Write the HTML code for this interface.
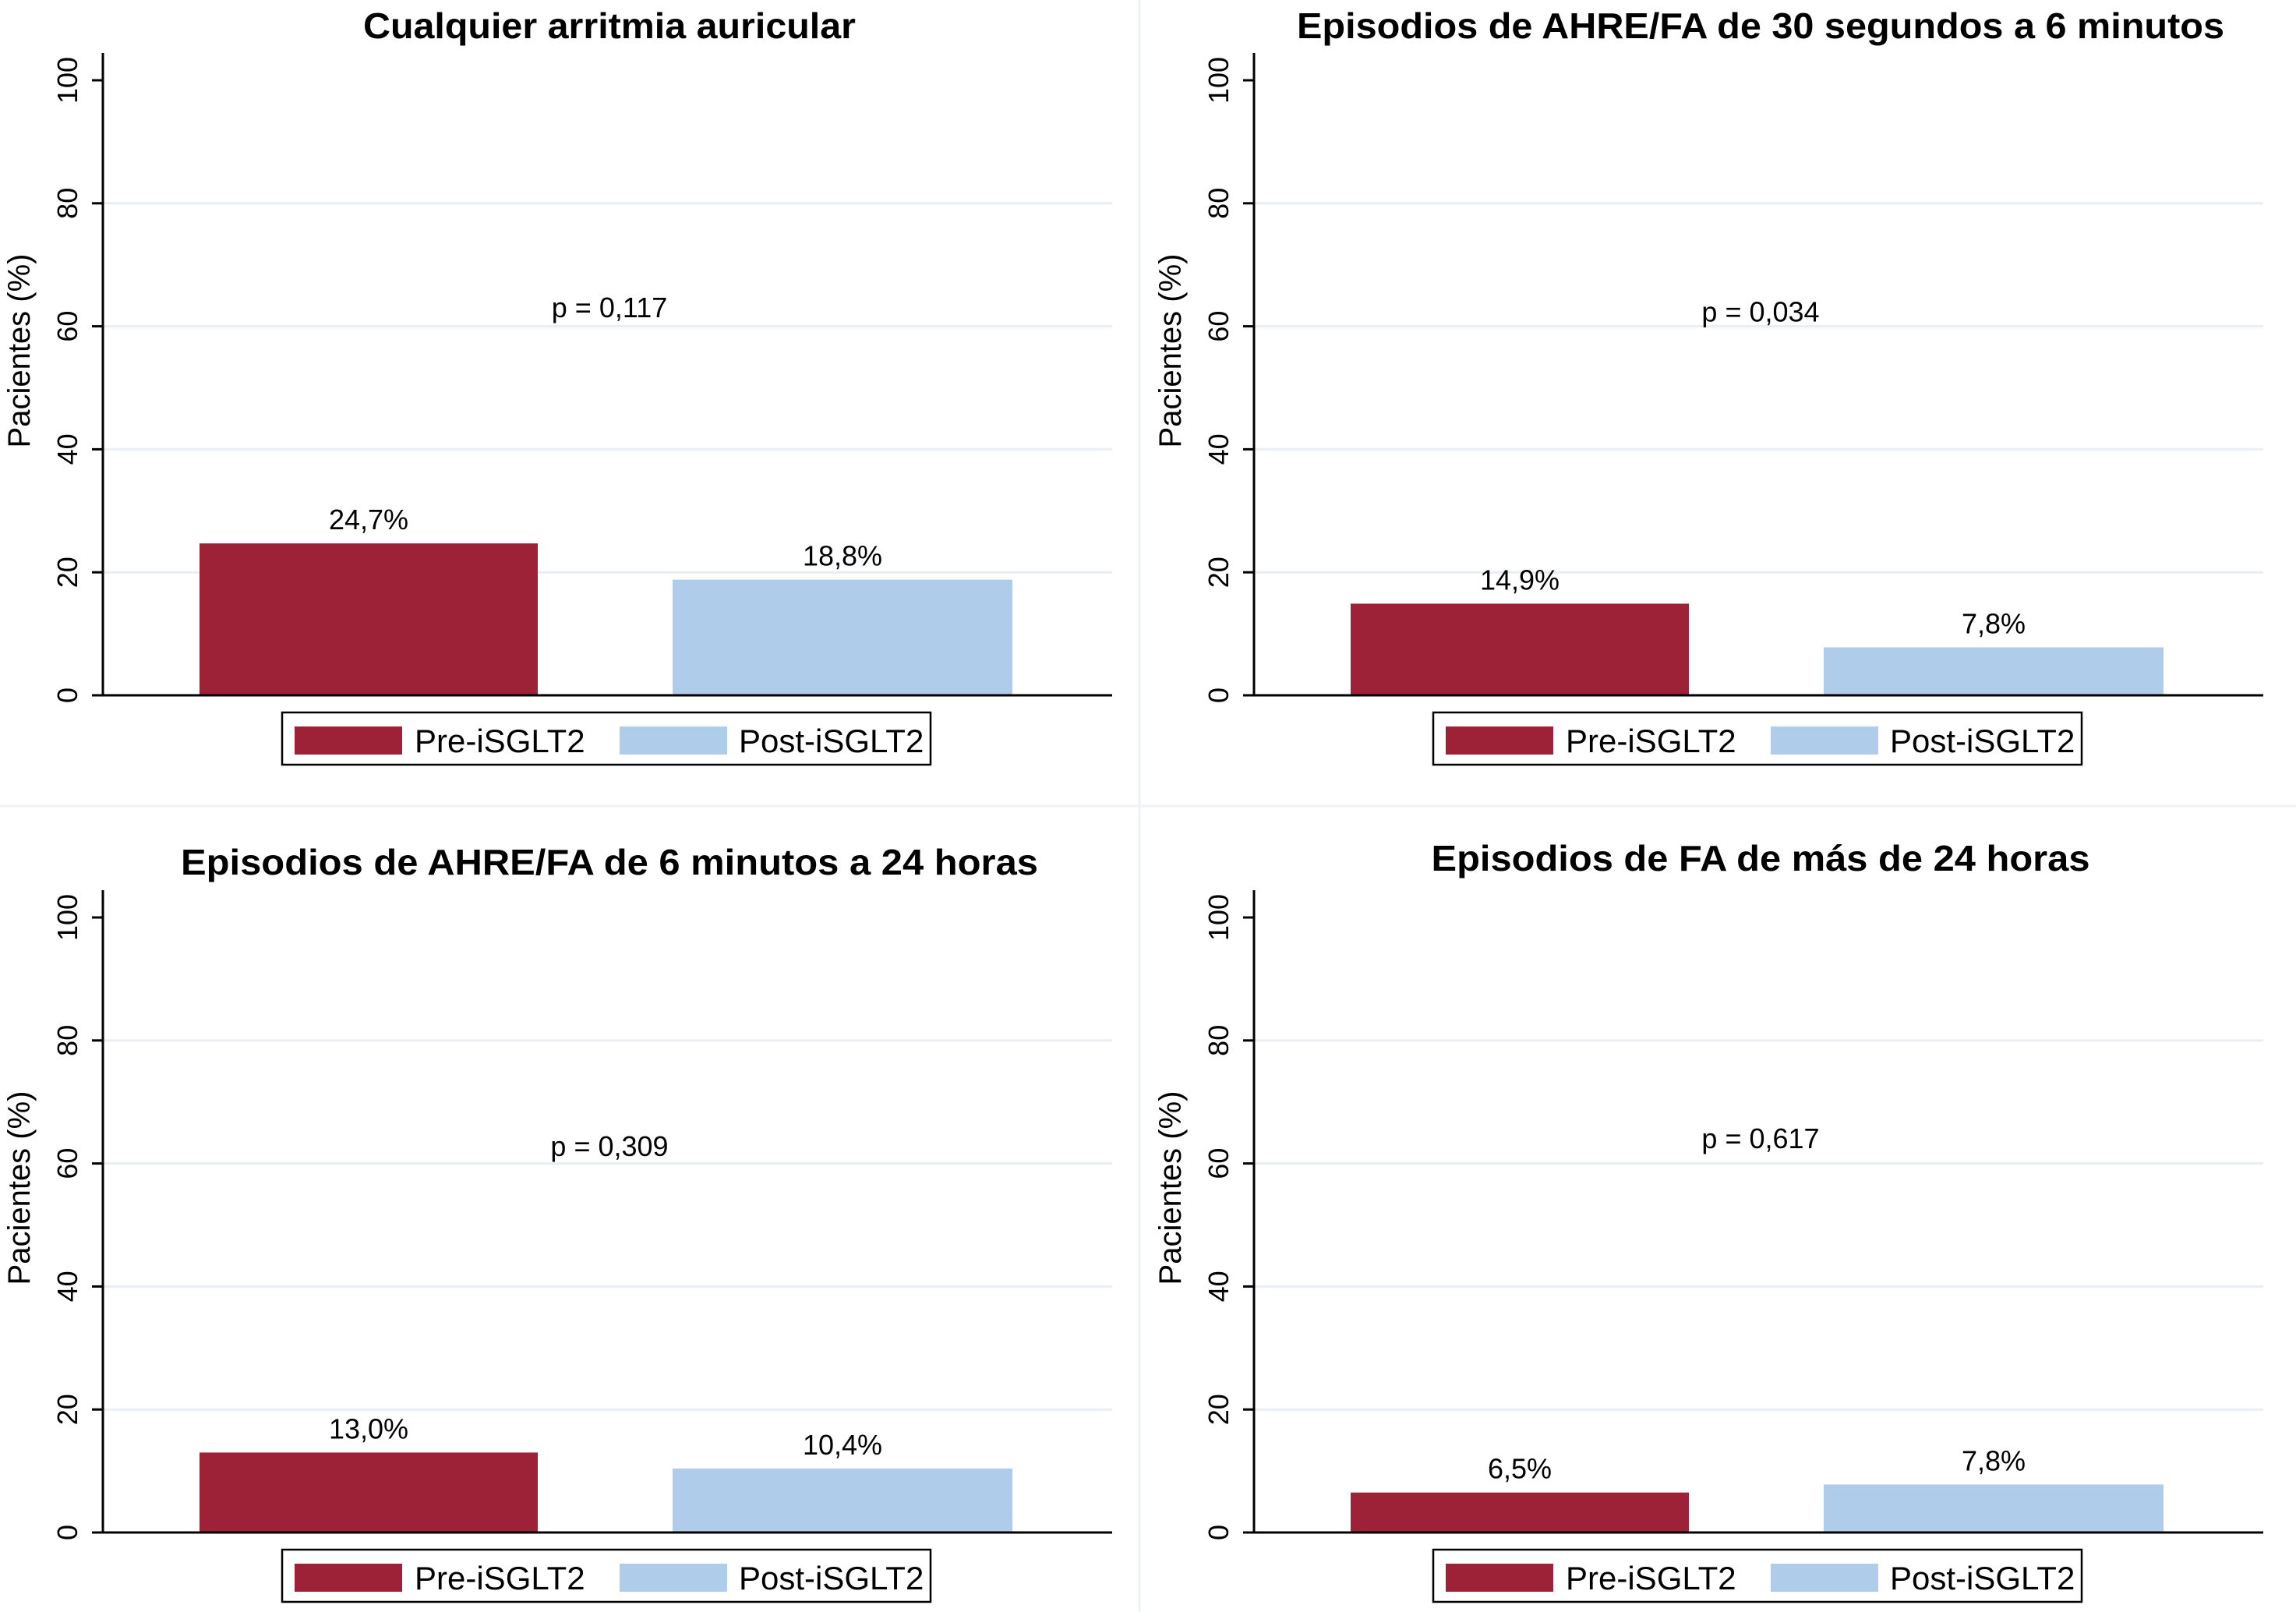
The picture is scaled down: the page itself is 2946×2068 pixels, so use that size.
<!DOCTYPE html>
<html><head><meta charset="utf-8">
<style>
html,body{margin:0;padding:0;background:#fff;}
svg{display:block;font-family:"Liberation Sans",Arial,sans-serif;}
</style></head>
<body>
<svg id="chart" width="2946" height="2068" viewBox="0 0 2946 2068" xmlns="http://www.w3.org/2000/svg">
<rect width="2946" height="2068" fill="#fff"/>
<line x1="1462" y1="0" x2="1462" y2="2068" stroke="#eef2f5" stroke-width="3"/>
<line x1="0" y1="1034" x2="2946" y2="1034" stroke="#eef2f5" stroke-width="3"/>
</svg>
<script>
const titles = ["Cualquier arritmia auricular","Episodios de AHRE/FA de 30 segundos a 6 minutos","Episodios de AHRE/FA de 6 minutos a 24 horas","Episodios de FA de más de 24 horas"];
const preValues = [24.7, 14.9, 13.0, 6.5];
const postValues = [18.8, 7.8, 10.4, 7.8];
const preLabels = ["24,7%","14,9%","13,0%","6,5%"];
const postLabels = ["18,8%","7,8%","10,4%","7,8%"];
const pLabels = ["p = 0,117","p = 0,034","p = 0,309","p = 0,617"];
const pPositions = [61.5, 60.8, 61.2, 62.5];
const yTicks = [0,20,40,60,80,100];
const seriesNames = ["Pre-iSGLT2","Post-iSGLT2"];

const svg = document.getElementById('chart');
const NS = 'http://www.w3.org/2000/svg';
function mk(tag, attrs, parent){const e=document.createElementNS(NS,tag);for(const k in attrs)e.setAttribute(k,attrs[k]);(parent||svg).appendChild(e);return e;}

const offsets = [[0,0],[1477,0],[0,1074],[1477,1074]];
const titleWidths = [632, 1190, 1100, 845];
const titleY = [49, 49, 48, 43];
const COL_PRE = '#9e2237', COL_POST = '#afcdea';

for (let i=0;i<4;i++){
  const [ox,oy] = offsets[i];
  const g = mk('g',{transform:`translate(${ox},${oy})`});
  
  
  const x0=132, x1=1427, y0=892, y100=103;
  const yS = v => y0 - (v/100)*(y0-y100);
  yTicks.forEach(t=>{
    if(t>0 && t<100){
      const l=mk('line',{x1:x0,x2:x1,y1:yS(t),y2:yS(t),stroke:'#e8eef4','stroke-width':3},g);
      
      
    }
    const tk=mk('line',{x1:x0-14,x2:x0,y1:yS(t),y2:yS(t),stroke:'#000','stroke-width':3},g);
    
    
    const tl=mk('text',{x:0,y:0,transform:`translate(${x0-33},${yS(t)}) rotate(-90)`,'text-anchor':'middle','font-size':36,fill:'#000'},g);
    tl.textContent=t;
    
    
  });
  const ya=mk('line',{x1:x0,x2:x0,y1:68,y2:y0+1,stroke:'#000','stroke-width':3},g);
  
  
  const bars=[[256,690,preValues[i],COL_PRE,preLabels[i],'bar-pre'],[863,1299,postValues[i],COL_POST,postLabels[i],'bar-post']];
  bars.forEach(b=>{
    const r=mk('rect',{x:b[0],y:yS(b[2]),width:b[1]-b[0],height:y0-yS(b[2]),fill:b[3]},g);
    
    
    const t=mk('text',{x:(b[0]+b[1])/2,y:yS(b[2])-18,'text-anchor':'middle','font-size':36,fill:'#000'},g);
    t.textContent=b[4];
    
    
  });
  const xa=mk('line',{x1:x0,x2:x1,y1:y0,y2:y0,stroke:'#000','stroke-width':3},g);
  
  
  const p=mk('text',{x:782,y:yS(pPositions[i]),'text-anchor':'middle','font-size':36,fill:'#000'},g);
  p.textContent=pLabels[i];
  
  
  const tt=mk('text',{x:782,y:titleY[i],'text-anchor':'middle','font-size':46,'font-weight':'bold',fill:'#000',textLength:titleWidths[i],lengthAdjust:'spacingAndGlyphs'},g);
  tt.textContent=titles[i];
  
  
  const yl=mk('text',{x:0,y:0,transform:`translate(38,450) rotate(-90)`,'text-anchor':'middle','font-size':40,fill:'#000'},g);
  yl.textContent='Pacientes (%)';
  
  
  const lg=mk('g',{},g);
  
  
  const lb=mk('rect',{x:362,y:914,width:832,height:67,fill:'#fff',stroke:'#000','stroke-width':2.5},lg);
  
  
  const ents=[[378,COL_PRE,seriesNames[0],532,'legend-entry-pre'],[795,COL_POST,seriesNames[1],948,'legend-entry-post']];
  ents.forEach(e=>{
    const s=mk('rect',{x:e[0],y:932,width:138,height:36,fill:e[1]},lg);
    
    
    const t=mk('text',{x:e[3],y:965,'font-size':42,fill:'#000'},lg);
    t.textContent=e[2];
    
    
  });
}
</script>
</body></html>
